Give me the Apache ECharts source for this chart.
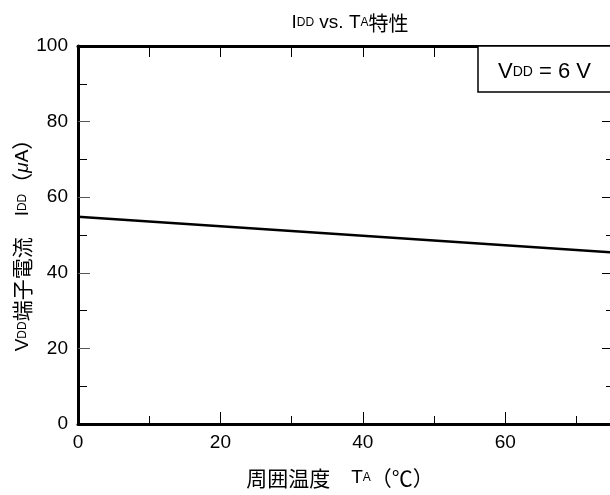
<!DOCTYPE html>
<html>
<head>
<meta charset="utf-8">
<script src="https://cdn.jsdelivr.net/npm/echarts@6/dist/echarts.min.js"></script>
<style>
  html, body { margin: 0; padding: 0; background: #fff; }
  #chart { width: 610px; height: 495px; }
</style>
</head>
<body>
<div id="chart"></div>
<script>
// Supply current vs. ambient temperature, VDD = 6 V
const temperature = [0, 75];          // TA (°C)
const supplyCurrent = [54.8, 45.4];   // IDD (µA)
const xTicks = [0, 20, 40, 60];
const yTicks = [0, 20, 40, 60, 80, 100];

const FONT = '"Liberation Sans", Arial, "Noto Sans CJK JP", sans-serif';
const CJK = '"Noto Sans CJK JP", "Liberation Sans", sans-serif';

const chart = echarts.init(document.getElementById('chart'));

chart.setOption({
  animation: false,
  backgroundColor: '#fff',
  title: {
    text: '{n|I}{s|DD}{n| vs. T}{s|A}{c|特性}',
    left: 345, top: 8, textAlign: 'center',
    textStyle: {
      fontWeight: 'normal',
      rich: {
        n: { fontSize: 19, fontFamily: FONT, fontWeight: 'normal', color: '#000' },
        s: { fontSize: 12, fontFamily: FONT, fontWeight: 'normal', color: '#000' },
        c: { fontSize: 20, fontFamily: CJK, fontWeight: 'normal', color: '#000' }
      }
    }
  },
  grid: { left: 78, right: -2, top: 46, bottom: 71, containLabel: false, outerBoundsMode: 'none' },
  xAxis: [
    {
      type: 'value', position: 'bottom', min: 0, max: 75, interval: 20,
      axisLine: { show: true, onZero: false, lineStyle: { color: '#000', width: 3 } },
      axisTick: { show: true, inside: true, length: 12, customValues: xTicks.slice(1), lineStyle: { color: '#000', width: 1 } },
      minorTick: { show: true, splitNumber: 2, length: 8, lineStyle: { color: '#000', width: 1 } },
      splitLine: { show: false },
      axisLabel: { customValues: xTicks, margin: 9, fontSize: 19, fontFamily: FONT, color: '#000' }
    },
    {
      type: 'value', position: 'top', min: 0, max: 75, interval: 10,
      axisLine: { show: true, onZero: false, lineStyle: { color: '#000', width: 3 } },
      axisTick: { show: true, inside: true, length: 11, lineStyle: { color: '#000', width: 1 } },
      splitLine: { show: false },
      axisLabel: { show: false }
    }
  ],
  yAxis: [
    {
      type: 'value', position: 'left', min: 0, max: 100, interval: 20,
      axisLine: { show: true, onZero: false, lineStyle: { color: '#000', width: 3 } },
      axisTick: { show: true, inside: true, length: 12, customValues: yTicks.slice(1, -1), lineStyle: { color: '#555', width: 1 } },
      minorTick: { show: true, splitNumber: 2, length: 9, lineStyle: { color: '#000', width: 1 } },
      splitLine: { show: false },
      axisLabel: { customValues: yTicks, margin: 10, fontSize: 19, fontFamily: FONT, color: '#000' },
      name: '{v|V}{s|DD}{c|端子電流　}{v|I}{s|DD}{c|（}{m|μ}{v|A}{c|）}',
      nameLocation: 'middle', nameRotate: 90, nameGap: 45, nameMoveOverlap: false,
      nameTextStyle: {
        padding: [0, 10, 0, 0],
        rich: {
          v: { fontSize: 19, fontFamily: FONT, color: '#000' },
          s: { fontSize: 12, fontFamily: FONT, color: '#000' },
          m: { fontSize: 19, fontFamily: FONT, fontStyle: 'italic', color: '#000' },
          c: { fontSize: 21, fontFamily: CJK, color: '#000' }
        }
      }
    },
    {
      type: 'value', position: 'right', min: 0, max: 100, interval: 20,
      axisLine: { show: true, onZero: false, lineStyle: { color: '#000', width: 3 } },
      axisTick: { show: true, inside: true, length: 10, customValues: yTicks.slice(1, -1), lineStyle: { color: '#000', width: 1 } },
      minorTick: { show: true, splitNumber: 2, length: 6, lineStyle: { color: '#000', width: 1 } },
      splitLine: { show: false },
      axisLabel: { show: false }
    }
  ],
  graphic: [
    {
      type: 'rect', z: 100,
      shape: { x: 478, y: 46, width: 140, height: 46 },
      style: { fill: '#fff', stroke: '#000', lineWidth: 1.5 }
    },
    {
      type: 'text', z: 101, x: 498, y: 72,
      style: {
        text: '{v|V}{s|DD}{v| = 6 V}',
        verticalAlign: 'middle',
        rich: {
          v: { fontSize: 22, fontFamily: FONT, fill: '#000' },
          s: { fontSize: 14, fontFamily: FONT, fill: '#000' }
        }
      }
    },
    {
      type: 'text', z: 101, x: 340, y: 478,
      style: {
        text: '{c|周囲温度　}{v|T}{s|A}{c|（℃）}',
        align: 'center', verticalAlign: 'middle',
        rich: {
          c: { fontSize: 21, fontFamily: CJK, fill: '#000' },
          v: { fontSize: 19, fontFamily: FONT, fill: '#000' },
          s: { fontSize: 12, fontFamily: FONT, fill: '#000' }
        }
      }
    }
  ],
  series: [{
    type: 'line',
    xAxisIndex: 0, yAxisIndex: 0,
    data: temperature.map((t, i) => [t, supplyCurrent[i]]),
    showSymbol: false,
    lineStyle: { color: '#000', width: 2.5 }
  }]
});
</script>
</body>
</html>
